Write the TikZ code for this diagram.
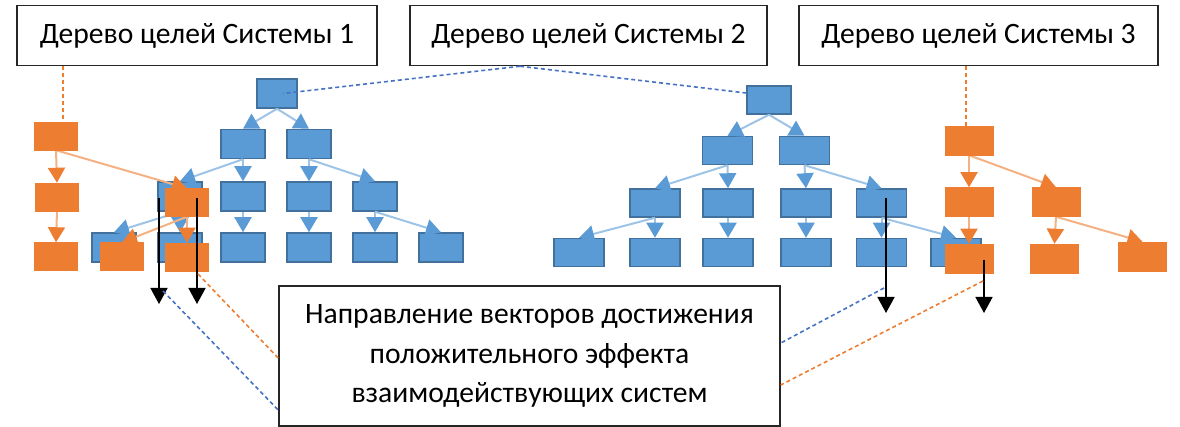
\documentclass[tikz,border=0pt]{standalone}
\usepackage{fontspec}
\setmainfont{Carlito}
\usetikzlibrary{arrows.meta}

\definecolor{bfill}{HTML}{5B9BD5}
\definecolor{bline}{HTML}{41719C}
\definecolor{blight}{HTML}{9DC3E6}
\definecolor{ofill}{HTML}{ED7D31}
\definecolor{olight}{HTML}{F4B183}
\definecolor{bdash}{HTML}{4472C4}
\definecolor{frame}{HTML}{262626}

\tikzset{
  bbox/.style={draw=bline, fill=bfill, line width=1.5pt, inner sep=0pt,
               minimum width=44pt, minimum height=29pt},
  wbox/.style={bbox, minimum width=50pt, minimum height=28pt},
  obox/.style={draw=ofill, fill=ofill, line width=0.5pt, inner sep=0pt,
               minimum width=43pt, minimum height=28pt},
  barrow/.style={draw=blight, line width=2pt,
                 -{Triangle[width=17pt,length=15pt,color=bfill]}},
  oarrow/.style={draw=olight, line width=2pt,
                 -{Triangle[width=17pt,length=15pt,color=ofill]}},
  karrow/.style={draw=black, line width=1.6pt,
                 -{Triangle[width=17pt,length=16pt]}},
  tbox/.style={draw=frame, line width=1.5pt, fill=white, inner sep=0pt,
               font=\fontsize{29.6}{39.5}\selectfont, text=black, align=center},
  odash/.style={draw=ofill, line width=1.6pt, dash pattern=on 4pt off 3pt},
  bdashed/.style={draw=bdash, line width=1.6pt, dash pattern=on 4pt off 3pt},
}

\begin{document}
\begin{tikzpicture}[x=1pt,y=-1pt]
\useasboundingbox (0,0) rectangle (1180,427);

% caption boxes
\node[tbox, minimum width=360pt, minimum height=60pt] (s1) at (197,35.5) {Дерево целей Системы 1};
\node[tbox, minimum width=357pt, minimum height=60pt] (s2) at (588.5,35.5) {Дерево целей Системы 2};
\node[tbox, minimum width=359pt, minimum height=60pt] (s3) at (978.5,35.5) {Дерево целей Системы 3};

% goal tree of system 1 (blue)
\node[bbox, minimum width=40pt] (p0) at (277,93.5) {};
\node[bbox] (p1) at (243,144) {};
\node[bbox] (p2) at (309,144) {};
\node[bbox] (p3) at (180,196.5) {};
\node[bbox] (p4) at (243,196.5) {};
\node[bbox] (p5) at (309,196.5) {};
\node[bbox] (p6) at (375,196.5) {};
\node[bbox] (p7) at (114,247.5) {};
\node[bbox] (p8) at (180,247.5) {};
\node[bbox] (p9) at (243,247.5) {};
\node[bbox] (p10) at (309,247.5) {};
\node[bbox] (p11) at (375,247.5) {};
\node[bbox] (p12) at (441,247.5) {};
\foreach \u/\v in {p0/p1,p0/p2,p1/p3,p1/p4,p2/p5,p2/p6,p3/p7,p3/p8,p4/p9,p5/p10,p6/p11,p6/p12}
  \draw[barrow] (\u.south) -- (\v.north);

% goal tree of system 2 (blue)
\node[wbox, minimum width=44pt] (q0) at (769,100) {};
\node[wbox] (q1) at (727.5,150.5) {};
\node[wbox] (q2) at (804.5,150.5) {};
\node[wbox] (q3) at (655,203) {};
\node[wbox] (q4) at (728,203) {};
\node[wbox] (q5) at (806,203) {};
\node[wbox] (q6) at (881.5,203) {};
\node[wbox] (q7) at (579,252.5) {};
\node[wbox] (q8) at (655,252.5) {};
\node[wbox] (q9) at (728,252.5) {};
\node[wbox] (q10) at (806,252.5) {};
\node[wbox] (q11) at (881.5,252.5) {};
\node[wbox] (q12) at (956,252.5) {};
\foreach \u/\v in {q0/q1,q0/q2,q1/q3,q1/q4,q2/q5,q2/q6,q3/q7,q3/q8,q4/q9,q5/q10,q6/q11,q6/q12}
  \draw[barrow] (\u.south) -- (\v.north);

% goal tree of system 1 (orange)
\node[obox] (r0) at (56,136) {};
\node[obox] (r1) at (57,197) {};
\node[obox] (r2) at (56,256.5) {};
\node[obox] (r3) at (187,202.5) {};
\node[obox] (r4) at (122,256.5) {};
\node[obox] (r5) at (187,257) {};
\foreach \u/\v in {r0/r1,r1/r2,r0/r3,r3/r4,r3/r5}
  \draw[oarrow] (\u.south) -- (\v.north);
\foreach \n in {r0,r1,r2,r3,r4,r5}
  \node[obox] at (\n) {};

% goal tree of system 3 (orange)
\node[obox, minimum width=48pt, minimum height=29pt] (t0) at (969,140.5) {};
\node[obox, minimum width=48pt, minimum height=29pt] (t1) at (969,202) {};
\node[obox, minimum width=48pt, minimum height=29pt] (t2) at (1056,202) {};
\node[obox, minimum width=48pt, minimum height=29pt] (t3) at (969,258.5) {};
\node[obox, minimum width=48pt, minimum height=29pt] (t4) at (1054.5,258.5) {};
\node[obox, minimum width=48pt, minimum height=29pt] (t5) at (1142.5,256.5) {};
\foreach \u/\v in {t0/t1,t0/t2,t1/t3,t2/t4,t2/t5}
  \draw[oarrow] (\u.south) -- (\v.north);
\foreach \n in {t0,t1,t2,t3,t4,t5}
  \node[obox, minimum width=48pt, minimum height=29pt] at (\n) {};

% direction vectors
\coordinate (k1a) at (159,198); \coordinate (k1b) at (159,304);
\coordinate (k2a) at (197,198); \coordinate (k2b) at (197,304);
\coordinate (k3a) at (886,198); \coordinate (k3b) at (886,313);
\coordinate (k4a) at (984,260); \coordinate (k4b) at (984,313);
\draw[karrow] (k1a) -- (k1b);
\draw[karrow] (k2a) -- (k2b);
\draw[karrow] (k3a) -- (k3b);
\draw[karrow] (k4a) -- (k4b);

% legend box
\node[tbox, minimum width=501pt, minimum height=140pt] (lg) at (529.5,356)
  {Направление векторов достижения\\положительного эффекта\\взаимодействующих систем};

% dashed leaders
\draw[odash] (s1.south -| 63,0) -- ([xshift=7pt]r0.north);
\draw[odash] (s3.south -| 966,0) -- ([xshift=-3pt]t0.north);
\coordinate (hub) at (s2.south -| 520,0);
\draw[bdashed] (hub) -- ([xshift=6pt]p0.center);
\draw[bdashed] (hub) -- ([yshift=7pt]q0.west);

\coordinate (la) at (198,274); \coordinate (lb) at (163,291);
\coordinate (lc) at (884,288); \coordinate (ld) at (983,281);
\draw[odash] (la) -- (lg.west |- 0,358);
\draw[bdashed] (lb) -- (lg.west |- 0,410);
\draw[bdashed] (lc) -- (lg.east |- 0,343);
\draw[odash] (ld) -- (lg.east |- 0,385);
\end{tikzpicture}
\end{document}
